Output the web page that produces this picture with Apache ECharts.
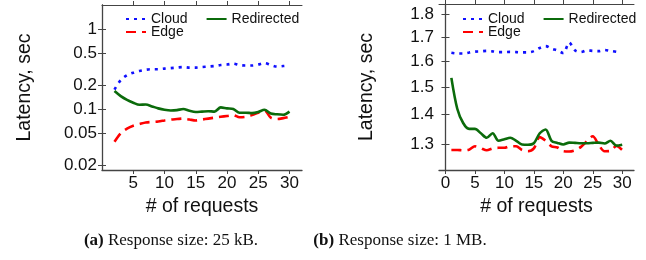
<!DOCTYPE html>
<html>
<head>
<meta charset="utf-8">
<script src="https://cdn.jsdelivr.net/npm/echarts@6/dist/echarts.min.js"></script>
<style>
  html, body { margin: 0; padding: 0; background: #fff; }
  #chart { width: 646px; height: 260px; }
</style>
</head>
<body>
<div id="chart"></div>
<script>
// (a) 25 kB responses
const reqA = [2, 3, 4, 5, 6, 7, 8, 9, 10, 11, 12, 13, 14, 15, 16, 17, 18, 19, 20, 21, 22, 23, 24, 25, 26, 27, 28, 29, 30];
const cloudA = [0.175, 0.23, 0.265, 0.285, 0.3, 0.31, 0.315, 0.315, 0.32, 0.325, 0.33, 0.335, 0.33, 0.33, 0.335, 0.34, 0.345, 0.355, 0.36, 0.37, 0.355, 0.35, 0.35, 0.36, 0.375, 0.355, 0.34, 0.345, 0.35];
const edgeA = [0.039, 0.05, 0.057, 0.062, 0.065, 0.068, 0.069, 0.07, 0.072, 0.074, 0.075, 0.076, 0.074, 0.072, 0.074, 0.076, 0.078, 0.08, 0.082, 0.084, 0.079, 0.08, 0.084, 0.09, 0.096, 0.078, 0.075, 0.077, 0.08];
const redirA = [0.168, 0.145, 0.13, 0.12, 0.113, 0.114, 0.108, 0.102, 0.098, 0.096, 0.097, 0.1, 0.095, 0.092, 0.093, 0.094, 0.093, 0.105, 0.102, 0.1, 0.09, 0.09, 0.089, 0.092, 0.098, 0.088, 0.086, 0.085, 0.093];

// (b) 1 MB responses
const reqB = [1, 2, 3, 4, 5, 6, 7, 8, 9, 10, 11, 12, 13, 14, 15, 16, 17, 18, 19, 20, 21, 22, 23, 24, 25, 26, 27, 28, 29, 30];
const cloudB = [1.635, 1.632, 1.632, 1.636, 1.64, 1.641, 1.643, 1.641, 1.638, 1.638, 1.639, 1.638, 1.637, 1.637, 1.642, 1.655, 1.663, 1.652, 1.645, 1.634, 1.678, 1.645, 1.638, 1.645, 1.643, 1.642, 1.647, 1.643, 1.639];
const edgeB = [1.28, 1.28, 1.279, 1.281, 1.292, 1.286, 1.279, 1.285, 1.287, 1.287, 1.292, 1.292, 1.28, 1.276, 1.285, 1.322, 1.31, 1.292, 1.288, 1.276, 1.275, 1.279, 1.29, 1.308, 1.325, 1.297, 1.276, 1.277, 1.293, 1.28];
const redirB = [1.535, 1.42, 1.37, 1.35, 1.35, 1.335, 1.32, 1.335, 1.31, 1.315, 1.32, 1.31, 1.298, 1.297, 1.302, 1.335, 1.348, 1.31, 1.303, 1.298, 1.304, 1.303, 1.302, 1.302, 1.303, 1.304, 1.301, 1.31, 1.294, 1.297];

// tick labels
const yTicksA = [0.02, 0.05, 0.1, 0.2, 0.5, 1];
const yTicksB = [1.3, 1.4, 1.5, 1.6, 1.7, 1.8];
const xTicksA = [5, 10, 15, 20, 25, 30];
const xTicksB = [0, 5, 10, 15, 20, 25, 30];

const pairs = (xs, ys) => ys.map((y, i) => [xs[i], y]);

const font = 'Liberation Sans, Arial, sans-serif';
const axisCol = '#444';

function xAxes(grid, min, max, ticks) {
  return [
    {
      type: 'value', gridIndex: grid, min: min, max: max, position: 'bottom',
      name: '# of requests', nameLocation: 'middle', nameGap: 19,
      nameTextStyle: { fontSize: 19.5, color: '#111', fontFamily: font },
      axisLine: { lineStyle: { color: axisCol, width: 1.3 } },
      axisTick: { customValues: ticks, length: 4, lineStyle: { color: axisCol } },
      axisLabel: { customValues: ticks, fontSize: 17, color: '#111', fontFamily: font, margin: 5 },
      splitLine: { show: false }
    },
    {
      type: 'value', gridIndex: grid, min: min, max: max, position: 'top',
      axisLine: { lineStyle: { color: axisCol, width: 1 } },
      axisTick: { customValues: ticks, length: 4, lineStyle: { color: axisCol } },
      axisLabel: { show: false },
      splitLine: { show: false }
    }
  ];
}

function yAxes(grid, min, max, ticks, gap) {
  return [
    {
      type: 'log', gridIndex: grid, min: min, max: max, position: 'left',
      name: 'Latency, sec', nameLocation: 'middle', nameGap: gap,
      nameTextStyle: { fontSize: 19.5, color: '#111', fontFamily: font },
      axisLine: { show: true, lineStyle: { color: axisCol, width: 1.3 } },
      axisTick: { show: true, customValues: ticks, length: 4, lineStyle: { color: axisCol } },
      axisLabel: { customValues: ticks, fontSize: 17, color: '#111', fontFamily: font, margin: 5,
        formatter: v => String(v) },
      splitLine: { show: false }
    },
    {
      type: 'log', gridIndex: grid, min: min, max: max, position: 'right',
      axisLine: { show: true, lineStyle: { color: axisCol, width: 1 } },
      axisTick: { show: true, customValues: ticks, length: 4, lineStyle: { color: axisCol } },
      axisLabel: { show: false },
      splitLine: { show: false }
    }
  ];
}

function lines(xi, yi, xs, cloud, edge, redir) {
  return [
    { name: 'Cloud', type: 'line', xAxisIndex: xi, yAxisIndex: yi, data: pairs(xs, cloud),
      symbol: 'none', smooth: 0.3, lineStyle: { color: '#1010ff', width: 2.6, type: [3, 5] }, itemStyle: { color: '#1010ff' } },
    { name: 'Edge', type: 'line', xAxisIndex: xi, yAxisIndex: yi, data: pairs(xs, edge),
      symbol: 'none', smooth: 0.3, lineStyle: { color: '#ff0000', width: 2.6, type: [10, 6] }, itemStyle: { color: '#ff0000' } },
    { name: 'Redirected', type: 'line', xAxisIndex: xi, yAxisIndex: yi, data: pairs(xs, redir),
      symbol: 'none', smooth: 0.3, lineStyle: { color: '#0b6b0b', width: 2.6 }, itemStyle: { color: '#0b6b0b' } }
  ];
}

function legends(left) {
  const base = { itemWidth: 20, itemHeight: 12, itemGap: 18, padding: 0,
    itemStyle: { opacity: 0, borderWidth: 0 },
    textStyle: { fontSize: 14, color: '#111', fontFamily: font }, selectedMode: false };
  return [
    Object.assign({}, base, { left: left, top: 12, data: ['Cloud', 'Redirected'] }),
    Object.assign({}, base, { left: left, top: 25, data: ['Edge'] })
  ];
}

const chart = echarts.init(document.getElementById('chart'), null, { renderer: 'canvas' });
chart.setOption({
  animation: false,
  backgroundColor: '#fff',
  grid: [
    { left: 102, top: 5, width: 200, height: 165 },
    { left: 439, top: 4, width: 195, height: 166 }
  ],
  xAxis: [].concat(xAxes(0, 0, 32, xTicksA), xAxes(1, -1.1, 32, xTicksB)),
  yAxis: [].concat(yAxes(0, 0.0173, 2, yTicksA, 67), yAxes(1, 1.217, 1.849, yTicksB, 62)),
  legend: [].concat(legends(125), legends(462)),
  series: [].concat(
    lines(0, 0, reqA, cloudA, edgeA, redirA),
    lines(2, 2, reqB, cloudB, edgeB, redirB)
  ),
  graphic: [
    { type: 'text', x: 171, y: 241, style: {
      text: '{b|(a)} Response size: 25 kB.', font: '17px "Liberation Serif", serif',
      fill: '#111', align: 'center', verticalAlign: 'middle',
      rich: { b: { fontWeight: 'bold', fontSize: 17, fontFamily: 'Liberation Serif', fill: '#111' } } } },
    { type: 'text', x: 400, y: 241, style: {
      text: '{b|(b)} Response size: 1 MB.', font: '17px "Liberation Serif", serif',
      fill: '#111', align: 'center', verticalAlign: 'middle',
      rich: { b: { fontWeight: 'bold', fontSize: 17, fontFamily: 'Liberation Serif', fill: '#111' } } } }
  ]
});
</script>
</body>
</html>
